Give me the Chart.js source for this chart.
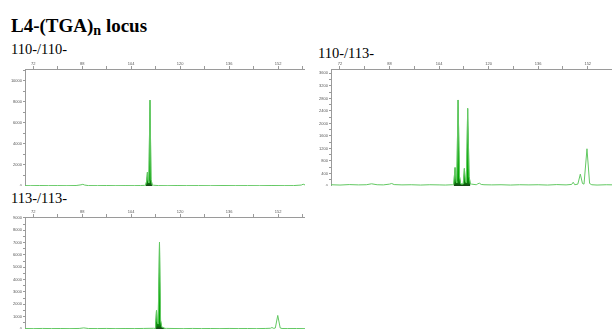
<!DOCTYPE html>
<html>
<head>
<meta charset="utf-8">
<script src="https://cdn.jsdelivr.net/npm/chart.js@4/dist/chart.umd.min.js"></script>
<style>
  html, body { margin: 0; padding: 0; background: #fff; width: 612px; height: 329px; overflow: hidden; position: relative; }
  .lbl { position: absolute; font-family: "Liberation Serif", "DejaVu Serif", "Times New Roman", serif; color: #000; white-space: nowrap; }
  .title { font-size: 19px; line-height: 19px; font-weight: bold; }
  .title sub { font-size: 14px; vertical-align: baseline; position: relative; top: 3px; }
  .sample { font-size: 14.5px; line-height: 14.5px; }
  canvas { position: absolute; }
</style>
</head>
<body>
<div class="lbl title" style="left:11px; top:16px;">L4-(TGA)<sub>n</sub> locus</div>
<div class="lbl sample" style="left:11px; top:42px;">110-/110-</div>
<div class="lbl sample" style="left:318px; top:46px;">110-/113-</div>
<div class="lbl sample" style="left:11px; top:191px;">113-/113-</div>

<canvas id="panel1" width="305" height="131" style="left:0px; top:55px;"></canvas>
<canvas id="panel2" width="306" height="131" style="left:309px; top:55px;"></canvas>
<canvas id="panel3" width="305" height="126" style="left:0px; top:203px;"></canvas>

<script>
// size axis (bp): labelled ticks, minor ticks every 8 bp in between
const sizeTicks = [72, 88, 104, 120, 136, 152];

// 110-/110-  : background trace and the called allele peaks
const p1BaseX = [69.3, 71, 74, 77, 80, 83, 86, 87.6, 88.2, 88.8, 90, 93, 96, 99, 102, 105, 107, 108.3, 111.3, 113, 116, 119, 122, 126, 130, 134, 138, 142, 146, 150, 154, 157, 159.6, 160.2, 160.8];
const p1BaseY = [40, 30, 45, 35, 40, 30, 45, 110, 160, 90, 40, 35, 45, 30, 40, 35, 45, 60, 70, 40, 30, 45, 35, 40, 30, 45, 35, 40, 30, 45, 35, 40, 90, 170, 100];
const p1PeakX = [108.7, 109.0, 109.3, 109.5, 109.75, 110.15, 110.5, 110.9];
const p1PeakY = [60, 400, 1300, 500, 300, 8150, 600, 60];

// 110-/113-
const p2BaseX = [69.1, 72, 75, 78, 80.5, 82.2, 84, 86, 88, 88.7, 89.5, 92, 95, 98, 101, 104, 106, 108.3, 114.5, 116, 116.5, 117, 117.6, 118.5, 121, 124, 127, 130, 133, 136, 139, 142, 145, 146.8, 147.3, 147.8, 148.8, 149.6, 150.3, 150.8, 151.75, 152.6, 153.3, 155, 158, 160.8];
const p2BaseY = [40, 30, 45, 35, 40, 70, 40, 35, 60, 80, 45, 35, 40, 30, 40, 35, 30, 40, 60, 40, 70, 90, 50, 40, 35, 40, 30, 40, 35, 40, 30, 45, 35, 50, 120, 40, 60, 380, 80, 60, 1190, 80, 40, 30, 40, 35];
const p2PeakX = [108.7, 109.16, 109.5, 109.7, 110.13, 110.6, 111.0, 111.8, 112.16, 112.5, 112.8, 113.23, 113.7, 114.1];
const p2PeakY = [40, 590, 150, 100, 2750, 300, 60, 60, 560, 150, 100, 2480, 300, 60];

// 113-/113-
const p3BaseX = [69.3, 72, 75, 78, 81, 84, 87, 88.5, 90, 93, 96, 99, 102, 105, 108, 111.3, 115.5, 118, 121, 124, 127, 130, 133, 136, 139, 142, 145, 148, 149.5, 150, 150.6, 151.1, 151.9, 152.7, 153.3, 155, 158, 160.8];
const p3BaseY = [40, 30, 45, 35, 40, 30, 45, 90, 40, 35, 45, 30, 40, 35, 45, 60, 50, 40, 30, 45, 35, 40, 30, 45, 35, 40, 30, 45, 60, 120, 50, 80, 1100, 80, 40, 35, 40, 30];
const p3PeakX = [111.8, 112.0, 112.27, 112.5, 112.8, 113.25, 113.6, 114.0, 115.0];
const p3PeakY = [50, 500, 1500, 600, 400, 7050, 700, 150, 50];

const axisGrey = '#9a9a9a';
const tickFont = { size: 4, family: 'Liberation Sans' };

function toPoints(xs, ys) {
  return xs.map((x, i) => ({ x: x, y: ys[i] }));
}

function stepTicks(from, to, step) {
  const out = [];
  for (let v = from; v <= to + 1e-9; v += step) out.push({ value: v });
  return out;
}

function peakFill(ctx) {
  const area = ctx.chart.chartArea;
  if (!area) return '#00a000';
  const g = ctx.chart.ctx.createLinearGradient(0, area.bottom, 0, area.top);
  g.addColorStop(0, '#184018');
  g.addColorStop(0.03, '#0b800b');
  g.addColorStop(0.08, '#00a400');
  g.addColorStop(1, '#00b000');
  return g;
}

function makePanel(id, baseX, baseY, peakX, peakY, xMin, xMax, yMax, yStep, yLabelStep, yWidth) {
  const trace = toPoints(baseX.concat(peakX), baseY.concat(peakY)).sort((a, b) => a.x - b.x);
  const peaks = toPoints(peakX, peakY);

  new Chart(document.getElementById(id).getContext('2d'), {
    type: 'line',
    data: {
      datasets: [{
        data: trace,
        borderColor: '#62c862',
        borderWidth: 1,
        pointRadius: 0,
        tension: 0,
        fill: false,
        order: 0
      }, {
        data: peaks,
        borderColor: '#00a000',
        borderWidth: 0.5,
        backgroundColor: peakFill,
        pointRadius: 0,
        tension: 0,
        fill: 'origin',
        order: 1
      }]
    },
    options: {
      responsive: false,
      animation: false,
      devicePixelRatio: 1,
      layout: { padding: 0 },
      plugins: { legend: { display: false }, tooltip: { enabled: false } },
      scales: {
        x: {
          type: 'linear',
          position: 'top',
          min: xMin,
          max: xMax,
          afterBuildTicks: s => { s.ticks = stepTicks(72, xMax, 8); },
          afterFit: s => { s.height = 14; s.paddingLeft = 0; s.paddingRight = 0; },
          ticks: {
            autoSkip: false,
            maxRotation: 0,
            padding: 0,
            font: tickFont,
            color: '#555',
            callback: v => sizeTicks.includes(v) ? String(v) : ''
          },
          grid: { drawOnChartArea: false, drawTicks: true, tickLength: 3, color: axisGrey },
          border: { display: true, color: axisGrey, width: 1 }
        },
        y: {
          min: 0,
          max: yMax,
          afterBuildTicks: s => { s.ticks = stepTicks(0, yMax, yStep); },
          afterFit: s => { s.width = yWidth; s.paddingTop = 0; s.paddingBottom = 0; },
          ticks: {
            autoSkip: false,
            padding: 1,
            font: tickFont,
            color: '#555',
            callback: v => v % yLabelStep === 0 ? String(v) : ''
          },
          grid: { drawOnChartArea: false, drawTicks: true, tickLength: 2, color: axisGrey },
          border: { display: true, color: axisGrey, width: 1 }
        }
      }
    }
  });
}

makePanel('panel1', p1BaseX, p1BaseY, p1PeakX, p1PeakY, 69.3, 160.8, 11100, 1000, 2000, 25);
makePanel('panel2', p2BaseX, p2BaseY, p2PeakX, p2PeakY, 69.1, 160.8, 3740, 200, 400, 22);
makePanel('panel3', p3BaseX, p3BaseY, p3PeakX, p3PeakY, 69.3, 160.8, 9080, 500, 1000, 25);
</script>
</body>
</html>
